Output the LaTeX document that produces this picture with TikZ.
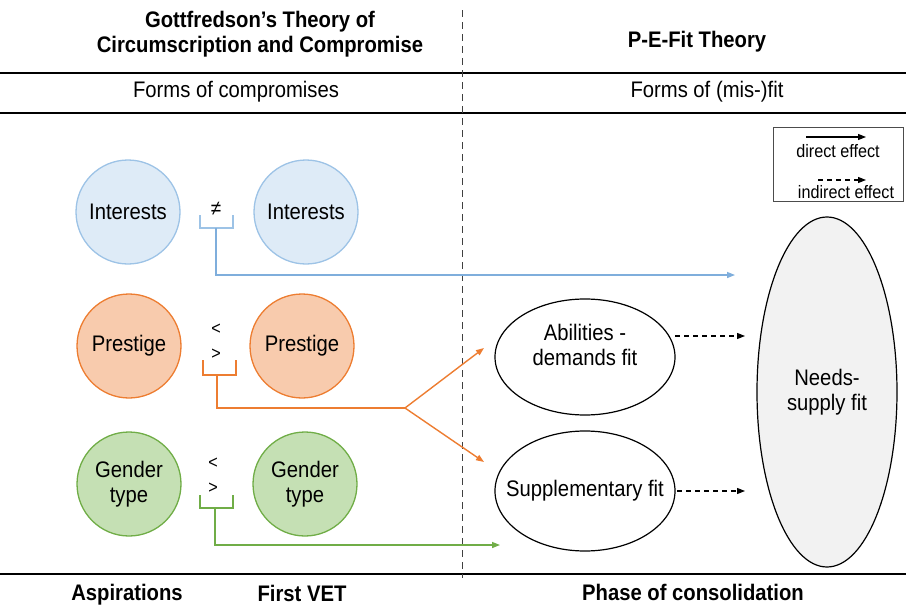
\documentclass[tikz,border=0pt]{standalone}
\usepackage{fontspec}
\setmainfont[FakeStretch=0.9]{Liberation Sans}
\usetikzlibrary{arrows.meta,shapes.geometric}
\definecolor{bfill}{HTML}{DEEBF7}
\definecolor{bline}{HTML}{9DC3E6}
\definecolor{barrow}{HTML}{7FAEDC}
\definecolor{ofill}{HTML}{F8CBAD}
\definecolor{oline}{HTML}{ED7D31}
\definecolor{gfill}{HTML}{C5E0B4}
\definecolor{gline}{HTML}{70AD47}
\definecolor{nfill}{HTML}{F2F2F2}
\tikzset{
  every node/.style={inner sep=0pt, align=center},
  txt/.style={font=\fontsize{22.5}{25}\selectfont},
  btxt/.style={font=\fontsize{22.5}{25}\selectfont\bfseries},
  small/.style={font=\fontsize{18}{20}\selectfont},
  circ/.style={circle, minimum size=104pt, line width=1.3pt, txt},
  bluec/.style={circ, draw=bline, fill=bfill},
  orangec/.style={circ, draw=oline, fill=ofill},
  greenc/.style={circ, draw=gline, fill=gfill},
  fitell/.style={ellipse, draw, line width=1.2pt, inner xsep=-20pt, inner ysep=-10pt, minimum width=180pt, minimum height=116pt, txt},
  tip/.style={-{Triangle[length=8pt,width=6pt]}},
  conn/.style={line width=1.4pt},
  dashconn/.style={line width=1.1pt, dash pattern=on 5pt off 4pt, tip},
  rule/.style={line width=2.6pt},
}
\begin{document}
\begin{tikzpicture}[x=1pt,y=-1pt]
\useasboundingbox (0,0) rectangle (906,605);
% frame lines
\draw[rule] (0,73) -- (906,73);
\draw[rule] (0,113) -- (906,113);
\draw[rule] (0,574) -- (906,574);
\draw[line width=1pt, black!75, dash pattern=on 7pt off 5pt] (462,10) -- (462,578);
% headings
\node[btxt] (t1) at (260,34) {Gottfredson's Theory of\\Circumscription and Compromise};
\node[btxt] (t2) at (697,42) {P-E-Fit Theory};
\node[txt] (f1) at (236,92) {Forms of compromises};
\node[txt] (f2) at (707,92) {Forms of (mis-)fit};
\node[btxt, anchor=base] (b1) at (127,600) {Aspirations};
\node[btxt, anchor=base] (b2) at (302,601) {First VET};
\node[btxt, anchor=base] (b3) at (693,600) {Phase of consolidation};
% legend
\node[draw=black!70, line width=1pt, minimum width=130pt, minimum height=74pt] (leg) at (838,164) {};
\coordinate (l1a) at (806,137); \coordinate (l1b) at (866,137);
\draw[line width=1.1pt, tip] (l1a) -- (l1b);
\node[small] (ld) at (838,151) {direct effect};
\coordinate (l2a) at (818,180); \coordinate (l2b) at (866,180);
\draw[dashconn] (l2a) -- (l2b);
\node[small] (li) at (846,192) {indirect effect};
% circles
\node[bluec] (i1) at (128,212) {Interests};
\node[bluec] (i2) at (306,212) {Interests};
\node[orangec] (p1) at (129,346) {Prestige};
\node[orangec] (p2) at (302,346) {Prestige};
\node[greenc] (g1) at (129,484) {Gender\\type};
\node[greenc] (g2) at (305,484) {Gender\\type};
% relation signs
\node[font=\fontsize{21}{22}\selectfont] (ne) at (216,209) {≠};
\node[small] (lt1) at (216,329) {<};
\node[small] (gt1) at (216,354) {>};
\node[small] (lt2) at (213,463) {<};
\node[small] (gt2) at (213,488) {>};
% fit ellipses
\node[fitell] (ad) at (585,357) {Abilities -\\demands fit\\ };
\node[fitell, minimum height=120pt] (sf) at (585,491) {Supplementary fit};
\node[ellipse, draw, line width=1.2pt, fill=nfill, minimum width=140pt, minimum height=350pt, txt] (ns) at (827,392) {Needs-\\supply fit};
% blue bracket and arrow
\coordinate (bb1) at (200,215); \coordinate (bb2) at (233,215);
\coordinate (bbs) at (216,228); \coordinate (bbe) at (735,275);
\draw[conn, bline] (bb1) |- (bb2 |- bbs) -- (bb2);
\draw[conn, barrow, tip] (bbs) |- (bbe);
% orange bracket and arrows
\coordinate (ob1) at (203,360); \coordinate (ob2) at (236,360);
\coordinate (obs) at (217,375); \coordinate (oj) at (405,408);
\coordinate (oe1) at (484,348); \coordinate (oe2) at (484,462);
\draw[conn, oline] (ob1) |- (ob2 |- obs) -- (ob2);
\draw[conn, oline] (obs) |- (oj);
\draw[conn, oline, tip] (oj) -- (oe1);
\draw[conn, oline, tip] (oj) -- (oe2);
% green bracket and arrow
\coordinate (gb1) at (200,495); \coordinate (gb2) at (233,495);
\coordinate (gbs) at (215,508); \coordinate (gbe) at (500,545);
\draw[conn, gline] (gb1) |- (gb2 |- gbs) -- (gb2);
\draw[conn, gline, tip] (gbs) |- (gbe);
% indirect effects
\coordinate (d1a) at (675,336); \coordinate (d1b) at (745,336);
\coordinate (d2a) at (677,491); \coordinate (d2b) at (745,491);
\draw[dashconn] (d1a) -- (d1b);
\draw[dashconn] (d2a) -- (d2b);
\end{tikzpicture}
\end{document}
